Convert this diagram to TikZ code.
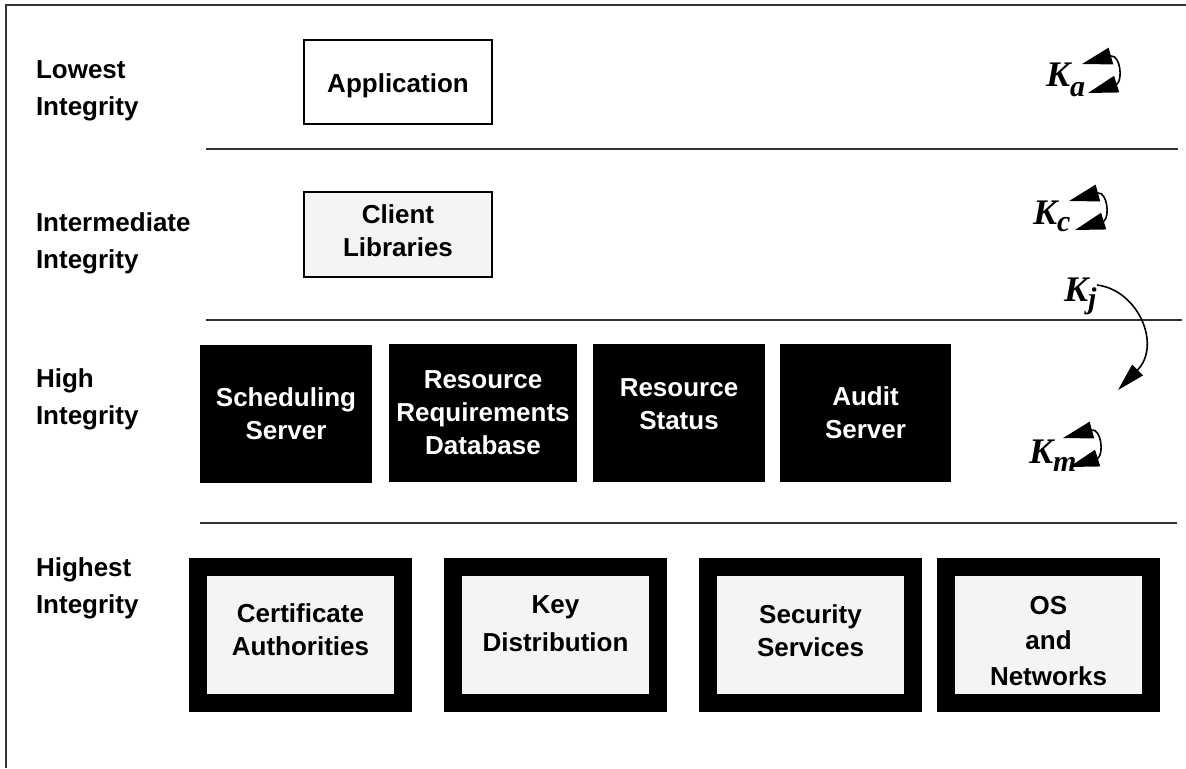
\documentclass[tikz,border=0pt]{standalone}
\usepackage{fontspec}
\setmainfont{Liberation Sans}
\newfontfamily\keyfont{Liberation Serif}
\usetikzlibrary{arrows.meta}

\definecolor{panel}{HTML}{F4F4F4}
\definecolor{rulegray}{HTML}{333333}

% key label: bold italic K with a lowered subscript
\newcommand\keylabel[2]{{\keyfont\bfseries\itshape\fontsize{18}{18}\selectfont K\raisebox{#2}{\fontsize{15}{15}\selectfont #1}}}
% centred lines of box text, lifted by #1 while keeping their natural size
\newcommand\boxlines[2]{\raisebox{#1}[\height][\depth]{\begin{tabular}{@{}c@{}}#2\end{tabular}}}

\begin{document}
\begin{tikzpicture}[x=0.5pt,y=-0.5pt,
  every node/.style={inner sep=0pt, outer sep=0pt},
  boxtext/.style={font=\bfseries\fontsize{13}{16.5}\selectfont, align=center},
  level/.style={anchor=west, align=left, font=\bfseries\fontsize{13}{18.5}\selectfont},
  plainbox/.style={boxtext, draw=black, line width=1pt, minimum width=94pt, minimum height=42pt},
  darkbox/.style={boxtext, fill=black, text=white, minimum height=69pt},
  guardbox/.style={boxtext, draw=black, line width=9pt, fill=panel, minimum width=102.5pt, minimum height=68pt},
  separator/.style={draw=rulegray, line width=1pt},
  keynode/.style={anchor=base west},
  keyloop/.pic={
    \draw[line width=0.8pt, {Triangle[length=15pt, width=8.5pt]}-{Triangle[length=15pt, width=8.5pt]}]
      (0,0) -- (29,-8) .. controls (38,-9) and (41,15) .. (35,20) -- (6,29);
  }
]
\useasboundingbox (0,0) rectangle (1186,768);

% outer frame (top and left edges)
\draw[draw=rulegray, line width=1.2pt] (6,768) -- (6,5) -- (1186,5);

% level separators
\draw[separator] (206,149) -- (1178,149);
\draw[separator] (206,320) -- (1182,320);
\draw[separator] (200,523) -- (1177,523);

% integrity levels
\node[level] (lvl1) at (36,91)  {Lowest\\Integrity};
\node[level] (lvl2) at (36,243) {Intermediate\\Integrity};
\node[level] (lvl3) at (36,399) {High\\Integrity};
\node[level] (lvl4) at (36,588) {Highest\\Integrity};

% lowest integrity
\node[plainbox, fill=white] (app) at (398,82) {\boxlines{-2pt}{Application}};

% intermediate integrity
\node[plainbox, fill=panel, minimum height=42.5pt] (client) at (398,234.5) {\boxlines{0.5pt}{Client\\Libraries}};

% high integrity
\node[darkbox, minimum width=86pt] (sched) at (286,414) {Scheduling\\Server};
\node[darkbox, minimum width=94pt] (resreq) at (483,413) {Resource\\Requirements\\Database};
\node[darkbox, minimum width=86pt] (resstat) at (679,413) {\boxlines{3.5pt}{Resource\\Status}};
\node[darkbox, minimum width=85.5pt] (audit) at (865.5,413) {Audit\\Server};

% highest integrity
\node[guardbox] (ca) at (300.5,635) {\boxlines{1.5pt}{Certificate\\Authorities}};
\node[guardbox] (keydist) at (555.5,635) {\boxlines{4.5pt}{Key\\[2.5pt]Distribution}};
\node[guardbox] (secsvc) at (810.5,635) {\boxlines{1pt}{Security\\Services}};
\node[guardbox] (osnet) at (1048.5,635) {\boxlines{-4pt}{OS\\[1.25pt]and\\[1.25pt]Networks}};

% keys
\node[keynode] (Ka) at (1046,86)  {\keylabel{a}{-5pt}};
\node[keynode] (Kc) at (1033,224) {\keylabel{c}{-3.5pt}};
\node[keynode] (Kj) at (1064,301) {\keylabel{j}{-3.5pt}};
\node[keynode] (Km) at (1029,463) {\keylabel{m}{-4pt}};

\pic at (1082,64)  {keyloop};
\pic at (1069,201) {keyloop};
\pic at (1063,438) {keyloop};

\coordinate (kjstart) at (1097,285);
\coordinate (kmtarget) at (1118,390);
\draw[line width=0.8pt, -{Triangle[length=14pt, width=7.5pt]}]
  (kjstart) .. controls (1138,290) and (1162,345) .. (kmtarget);
\end{tikzpicture}
\end{document}
